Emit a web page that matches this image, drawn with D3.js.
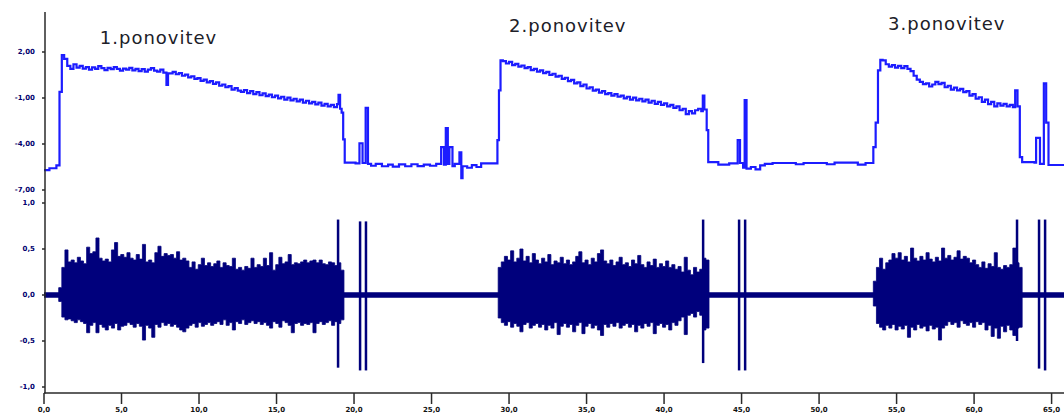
<!DOCTYPE html>
<html lang="sl">
<head>
<meta charset="UTF-8">
<title>Ponovitve - signal</title>
<script src="https://d3js.org/d3.v7.min.js"></script>
<style>
    body {
        margin: 0;
        background: #fff;
    }

    svg {
        display: block;
    }

    .rep-label {
        font-family: "DejaVu Sans", Verdana, sans-serif;
        font-size: 18px;
        letter-spacing: 1px;
        fill: #202028;
    }

    .tick-y {
        font-family: "DejaVu Sans", sans-serif;
        font-size: 7px;
        font-weight: bold;
        fill: #00006e;
    }

    .tick-x {
        font-family: "DejaVu Sans", sans-serif;
        font-size: 7px;
        font-weight: bold;
        fill: #111;
    }
</style>
</head>
<body>

<div id="chart"></div>

<script>
    // upper trace: [time s, value]
    const upperTrace = [
        [0, -5.70], [0.35, -5.58], [0.8, -5.40], [1.0, -0.60], [1.15, 1.80],
        [1.3, 1.55], [1.5, 1.10], [1.7, 0.90], [1.9, 1.20], [2.1, 0.98], [2.3, 1.10], [2.5, 0.92], [2.7, 1.02],
        [2.9, 0.85], [3.1, 1.00], [3.3, 0.90], [3.5, 1.08], [3.7, 0.95], [3.9, 0.82], [4.1, 0.97], [4.3, 0.88],
        [4.5, 1.02], [4.7, 0.90], [4.9, 0.78], [5.1, 0.92], [5.3, 0.85], [5.5, 0.97], [5.7, 0.80], [5.9, 0.90],
        [6.1, 0.75], [6.3, 0.88], [6.5, 0.72], [6.7, 0.85], [6.9, 0.95], [7.1, 0.78], [7.3, 0.72], [7.5, 0.85],
        [7.7, 0.65], [7.9, -0.15], [8.0, 0.60], [8.3, 0.70], [8.5, 0.55], [8.7, 0.62], [8.9, 0.45], [9.1, 0.52],
        [9.3, 0.35], [9.5, 0.42], [9.7, 0.25], [9.9, 0.30], [10.1, 0.12], [10.3, 0.20], [10.5, 0.02], [10.7, 0.10],
        [10.9, -0.08], [11.1, 0.02], [11.3, -0.20], [11.5, -0.12], [11.7, -0.30], [11.9, -0.22], [12.1, -0.45],
        [12.3, -0.35], [12.5, -0.52], [12.7, -0.60], [12.9, -0.48], [13.1, -0.68], [13.3, -0.55], [13.5, -0.75],
        [13.7, -0.62], [13.9, -0.82], [14.1, -0.70], [14.3, -0.88], [14.5, -0.78], [14.7, -0.95], [14.9, -0.85],
        [15.1, -1.02], [15.3, -0.92], [15.5, -1.10], [15.7, -0.98], [15.9, -1.15], [16.1, -1.05], [16.3, -1.22],
        [16.5, -1.10], [16.7, -1.30], [16.9, -1.18], [17.1, -1.35], [17.3, -1.25], [17.5, -1.42], [17.7, -1.30],
        [17.9, -1.50], [18.1, -1.38], [18.3, -1.55], [18.5, -1.45], [18.7, -1.60], [18.9, -1.40], [19.0, -0.80],
        [19.1, -1.70], [19.2, -1.95], [19.3, -3.70], [19.4, -5.22],
        [20.1, -5.26], [20.35, -3.95], [20.55, -5.24], [20.75, -1.65], [20.9, -5.30], [21.1, -5.42], [21.4, -5.30],
        [21.8, -5.45], [22.2, -5.35], [22.5, -5.48], [22.9, -5.33], [23.3, -5.45], [23.7, -5.32], [24.1, -5.44],
        [24.5, -5.34], [24.9, -5.42], [25.3, -5.30], [25.62, -4.20], [25.8, -5.35], [25.92, -2.96], [26.05, -5.30],
        [26.15, -4.20], [26.35, -5.45], [26.5, -5.30], [26.8, -4.55], [26.92, -6.22], [27.0, -5.45], [27.3, -5.55],
        [27.6, -5.38], [27.9, -5.50], [28.2, -5.26], [29.2, -5.26], [29.25, -3.75], [29.35, -0.50], [29.45, 1.45],
        [29.6, 1.40], [29.8, 1.25], [30.0, 1.35], [30.2, 1.15], [30.4, 1.22], [30.6, 1.05], [30.8, 1.12],
        [31.0, 0.95], [31.2, 1.02], [31.4, 0.82], [31.6, 0.90], [31.8, 0.72], [32.0, 0.80], [32.2, 0.62],
        [32.4, 0.70], [32.6, 0.50], [32.8, 0.58], [33.0, 0.40], [33.2, 0.45], [33.4, 0.25], [33.6, 0.32],
        [33.8, 0.10], [34.0, 0.18], [34.2, -0.05], [34.4, 0.02], [34.6, -0.22], [34.8, -0.12], [35.0, -0.38],
        [35.2, -0.30], [35.4, -0.52], [35.6, -0.45], [35.8, -0.65], [36.0, -0.55], [36.2, -0.75], [36.4, -0.68],
        [36.6, -0.85], [36.8, -0.75], [37.0, -0.92], [37.2, -0.85], [37.4, -1.02], [37.6, -0.92], [37.8, -1.10],
        [38.0, -0.98], [38.2, -1.15], [38.4, -1.05], [38.6, -1.22], [38.8, -1.10], [39.0, -1.30], [39.2, -1.18],
        [39.4, -1.38], [39.6, -1.25], [39.8, -1.45], [40.0, -1.35], [40.2, -1.55], [40.4, -1.45], [40.6, -1.65],
        [40.8, -1.55], [41.0, -1.80], [41.2, -1.70], [41.4, -2.05], [41.6, -1.85], [41.8, -2.00], [42.0, -1.80],
        [42.2, -1.70], [42.4, -1.85], [42.5, -0.85], [42.6, -1.75], [42.75, -3.10], [42.85, -5.18],
        [43.5, -5.35], [44.2, -5.26], [44.75, -3.75], [44.9, -5.24], [45.1, -5.55], [45.2, -1.13], [45.32, -5.60],
        [45.6, -5.50], [45.9, -5.65], [46.2, -5.40], [46.5, -5.30], [47.0, -5.24], [48.5, -5.32], [49.0, -5.24],
        [50.5, -5.32], [51.0, -5.22], [52.5, -5.34], [53.0, -5.24], [53.5, -4.20], [53.65, -2.60], [53.8, 0.80],
        [53.95, 1.48],
        [54.1, 1.45], [54.3, 1.20], [54.5, 1.05], [54.7, 1.15], [54.9, 0.98], [55.1, 1.10], [55.3, 0.95],
        [55.5, 1.08], [55.7, 0.90], [55.9, 0.75], [56.1, 0.45], [56.3, 0.20], [56.5, 0.05], [56.7, -0.10],
        [56.9, -0.05], [57.1, -0.25], [57.3, -0.12], [57.5, 0.05], [57.7, -0.10], [57.9, -0.02], [58.1, -0.30],
        [58.3, -0.20], [58.5, -0.45], [58.7, -0.32], [58.9, -0.50], [59.1, -0.40], [59.3, -0.62], [59.5, -0.55],
        [59.7, -0.85], [59.9, -0.75], [60.1, -1.05], [60.3, -0.95], [60.5, -1.25], [60.7, -1.10], [60.9, -1.40],
        [61.1, -1.25], [61.3, -1.55], [61.5, -1.35], [61.7, -1.50], [61.9, -1.38], [62.1, -1.55], [62.3, -1.45],
        [62.5, -1.60], [62.65, -0.50], [62.8, -1.55], [62.95, -4.85], [63.1, -5.18],
        [63.9, -5.22], [64.0, -3.60], [64.25, -5.30], [64.5, -0.05], [64.65, -2.60], [64.8, -5.37], [65.8, -5.37]
    ];

    // lower trace: bursts sampled every 0.2 s, as max / min per sample
    const burstStart = [0.95, 29.3, 53.5];
    const burstStep = 0.2;

    const burst1Hi = [0.08, 0.30, 0.49, 0.36, 0.38, 0.35, 0.41, 0.37, 0.34, 0.52, 0.45, 0.47, 0.62, 0.40, 0.37,
        0.39, 0.36, 0.49, 0.57, 0.42, 0.44, 0.41, 0.46, 0.40, 0.38, 0.44, 0.39, 0.55, 0.36, 0.38, 0.35, 0.46,
        0.53, 0.42, 0.45, 0.43, 0.44, 0.40, 0.47, 0.38, 0.40, 0.37, 0.30, 0.36, 0.28, 0.33, 0.40, 0.32, 0.35,
        0.31, 0.34, 0.37, 0.30, 0.35, 0.32, 0.31, 0.40, 0.28, 0.30, 0.27, 0.31, 0.29, 0.40, 0.30, 0.33, 0.31,
        0.40, 0.32, 0.46, 0.27, 0.33, 0.41, 0.34, 0.36, 0.44, 0.33, 0.35, 0.34, 0.36, 0.38, 0.35, 0.37, 0.38,
        0.35, 0.38, 0.34, 0.33, 0.36, 0.35, 0.32, 0.35, 0.27];
    const burst1Lo = [-0.07, -0.24, -0.27, -0.26, -0.28, -0.30, -0.27, -0.29, -0.31, -0.41, -0.33, -0.30, -0.41,
        -0.32, -0.35, -0.38, -0.33, -0.36, -0.31, -0.38, -0.34, -0.33, -0.30, -0.32, -0.35, -0.31, -0.34, -0.49,
        -0.33, -0.36, -0.46, -0.32, -0.35, -0.30, -0.33, -0.31, -0.34, -0.32, -0.35, -0.38, -0.40, -0.36, -0.33,
        -0.31, -0.35, -0.30, -0.34, -0.32, -0.30, -0.33, -0.31, -0.29, -0.32, -0.27, -0.33, -0.30, -0.38, -0.29,
        -0.31, -0.27, -0.32, -0.30, -0.28, -0.31, -0.29, -0.32, -0.30, -0.33, -0.36, -0.29, -0.31, -0.35, -0.28,
        -0.30, -0.33, -0.41, -0.31, -0.30, -0.33, -0.31, -0.32, -0.30, -0.41, -0.31, -0.29, -0.32, -0.30, -0.28,
        -0.33, -0.29, -0.31, -0.27];

    const burst2Hi = [0.30, 0.36, 0.42, 0.38, 0.48, 0.36, 0.40, 0.50, 0.37, 0.42, 0.35, 0.45, 0.38, 0.34, 0.40,
        0.36, 0.44, 0.33, 0.37, 0.35, 0.41, 0.34, 0.38, 0.33, 0.36, 0.42, 0.47, 0.35, 0.38, 0.33, 0.40, 0.36,
        0.45, 0.49, 0.37, 0.34, 0.38, 0.32, 0.36, 0.41, 0.33, 0.35, 0.31, 0.38, 0.34, 0.43, 0.33, 0.30, 0.36,
        0.32, 0.39, 0.30, 0.34, 0.31, 0.37, 0.30, 0.33, 0.28, 0.31, 0.25, 0.41, 0.27, 0.22, 0.30, 0.25, 0.28,
        0.40, 0.38];
    const burst2Lo = [-0.25, -0.30, -0.33, -0.29, -0.35, -0.31, -0.34, -0.40, -0.32, -0.30, -0.36, -0.33, -0.31,
        -0.35, -0.32, -0.38, -0.33, -0.36, -0.30, -0.43, -0.34, -0.31, -0.35, -0.32, -0.40, -0.33, -0.30, -0.42,
        -0.34, -0.31, -0.36, -0.33, -0.38, -0.44, -0.32, -0.35, -0.31, -0.34, -0.30, -0.36, -0.33, -0.31, -0.35,
        -0.32, -0.40, -0.33, -0.36, -0.31, -0.34, -0.30, -0.42, -0.33, -0.31, -0.35, -0.32, -0.38, -0.30, -0.33,
        -0.28, -0.24, -0.43, -0.22, -0.20, -0.24, -0.18, -0.22, -0.38, -0.36];

    const burst3Hi = [0.15, 0.30, 0.40, 0.28, 0.35, 0.38, 0.45, 0.40, 0.46, 0.38, 0.42, 0.36, 0.51, 0.40, 0.37,
        0.42, 0.38, 0.46, 0.39, 0.36, 0.41, 0.37, 0.51, 0.40, 0.43, 0.38, 0.41, 0.48, 0.39, 0.42, 0.40, 0.35,
        0.38, 0.33, 0.30, 0.36, 0.29, 0.34, 0.31, 0.46, 0.30, 0.28, 0.32, 0.30, 0.33, 0.51, 0.35, 0.30];
    const burst3Lo = [-0.12, -0.31, -0.35, -0.38, -0.33, -0.36, -0.32, -0.38, -0.34, -0.37, -0.33, -0.46, -0.35,
        -0.38, -0.32, -0.36, -0.34, -0.39, -0.33, -0.37, -0.35, -0.49, -0.36, -0.33, -0.29, -0.32, -0.30, -0.35,
        -0.28, -0.31, -0.33, -0.30, -0.35, -0.29, -0.32, -0.30, -0.38, -0.33, -0.45, -0.36, -0.47, -0.34, -0.40,
        -0.33, -0.38, -0.44, -0.36, -0.35];

    // single tall spikes on the lower trace: [time, max, min]
    const lowerSpikes = [
        [18.97, 0.82, -0.79], [20.39, 0.80, -0.82], [20.77, 0.80, -0.82],
        [42.52, 0.82, -0.74], [44.84, 0.82, -0.82], [45.23, 0.82, -0.82],
        [62.77, 0.82, -0.50], [64.19, 0.82, -0.80], [64.58, 0.82, -0.82]
    ];
    const quietBand = [-0.03, 0.03];

    const upperTicks = [2, -1, -4, -7];
    const lowerTicks = [1, 0.5, 0, -0.5, -1];
    const xTicks = [0, 5, 10, 15, 20, 25, 30, 35, 40, 45, 50, 55, 60, 65];

    const repLabels = ["1.ponovitev", "2.ponovitev", "3.ponovitev"];
    const repLabelAt = [[3.6, 2.55], [30.0, 3.3], [54.45, 3.43]];

    const width = 1064;
    const height = 414;

    const svg = d3.select("#chart")
        .append("svg")
        .attr("width", width)
        .attr("height", height);

    const x = d3.scaleLinear().domain([0, 65.8]).range([44, 1064]);
    const yUp = d3.scaleLinear().domain([-7, 2]).range([190, 52]);
    const yLow = d3.scaleLinear().domain([-1, 1]).range([387, 203]);

    const navy = "#00007c";

    // quiet baseline of the lower trace
    svg.append("rect")
        .attr("x", x(0))
        .attr("width", x(65.8) - x(0))
        .attr("y", yLow(quietBand[1]))
        .attr("height", yLow(quietBand[0]) - yLow(quietBand[1]))
        .attr("fill", navy);

    const bursts = [[burst1Hi, burst1Lo], [burst2Hi, burst2Lo], [burst3Hi, burst3Lo]];

    const area = d3.area()
        .x(d => x(d.t))
        .y0(d => yLow(d.lo))
        .y1(d => yLow(d.hi))
        .curve(d3.curveStepAfter);

    bursts.forEach(([hi, lo], k) => {
        const pts = hi.map((h, i) => ({t: burstStart[k] + i * burstStep, hi: h, lo: lo[i]}));
        const last = pts[pts.length - 1];
        pts.push({t: last.t + burstStep, hi: last.hi, lo: last.lo});
        svg.append("path")
            .attr("d", area(pts))
            .attr("fill", navy)
            .attr("stroke", navy)
            .attr("stroke-width", 0.8);
    });

    svg.selectAll(".spike")
        .data(lowerSpikes)
        .enter()
        .append("line")
        .attr("class", "spike")
        .attr("x1", d => x(d[0]))
        .attr("x2", d => x(d[0]))
        .attr("y1", d => yLow(d[1]))
        .attr("y2", d => yLow(d[2]))
        .attr("stroke", navy)
        .attr("stroke-width", 2.5);

    // upper trace
    const line = d3.line()
        .x(d => x(d[0]))
        .y(d => yUp(d[1]))
        .curve(d3.curveStepAfter);

    svg.append("path")
        .attr("d", line(upperTrace))
        .attr("fill", "none")
        .attr("stroke", "#1c1cff")
        .attr("stroke-width", 2.2);

    // axes
    const axisColor = "#2a2a2a";

    svg.append("line")
        .attr("x1", 45).attr("x2", 45)
        .attr("y1", 12).attr("y2", 393.5)
        .attr("stroke", axisColor).attr("stroke-width", 1.5);

    svg.append("line")
        .attr("x1", 44).attr("x2", width)
        .attr("y1", 393).attr("y2", 393)
        .attr("stroke", axisColor).attr("stroke-width", 1.5);

    const yTicks = upperTicks.map(v => ({y: yUp(v), label: v.toFixed(2).replace(".", ",")}))
        .concat(lowerTicks.map(v => ({y: yLow(v), label: v.toFixed(1).replace(".", ",")})));

    svg.selectAll(".ytick")
        .data(yTicks)
        .enter()
        .append("line")
        .attr("x1", 42).attr("x2", 45)
        .attr("y1", d => d.y).attr("y2", d => d.y)
        .attr("stroke", axisColor).attr("stroke-width", 1.5);

    svg.selectAll(".tick-y")
        .data(yTicks)
        .enter()
        .append("text")
        .attr("class", "tick-y")
        .attr("x", 35)
        .attr("y", d => d.y)
        .attr("dy", "0.35em")
        .attr("text-anchor", "end")
        .text(d => d.label);

    svg.selectAll(".xtick")
        .data(xTicks)
        .enter()
        .append("line")
        .attr("x1", d => x(d)).attr("x2", d => x(d))
        .attr("y1", 393).attr("y2", 404)
        .attr("stroke", axisColor).attr("stroke-width", 1.5);

    // x labels sit right below the ticks, at the very bottom edge as in the source
    svg.selectAll(".tick-x")
        .data(xTicks)
        .enter()
        .append("text")
        .attr("class", "tick-x")
        .attr("x", d => x(d))
        .attr("y", 412)
        .attr("text-anchor", "middle")
        .text(d => d.toFixed(1).replace(".", ","));

    // repetition labels
    svg.selectAll(".rep-label")
        .data(repLabels)
        .enter()
        .append("text")
        .attr("class", "rep-label")
        .attr("x", (d, i) => x(repLabelAt[i][0]))
        .attr("y", (d, i) => yUp(repLabelAt[i][1]))
        .text(d => d);
</script>

</body>
</html>
